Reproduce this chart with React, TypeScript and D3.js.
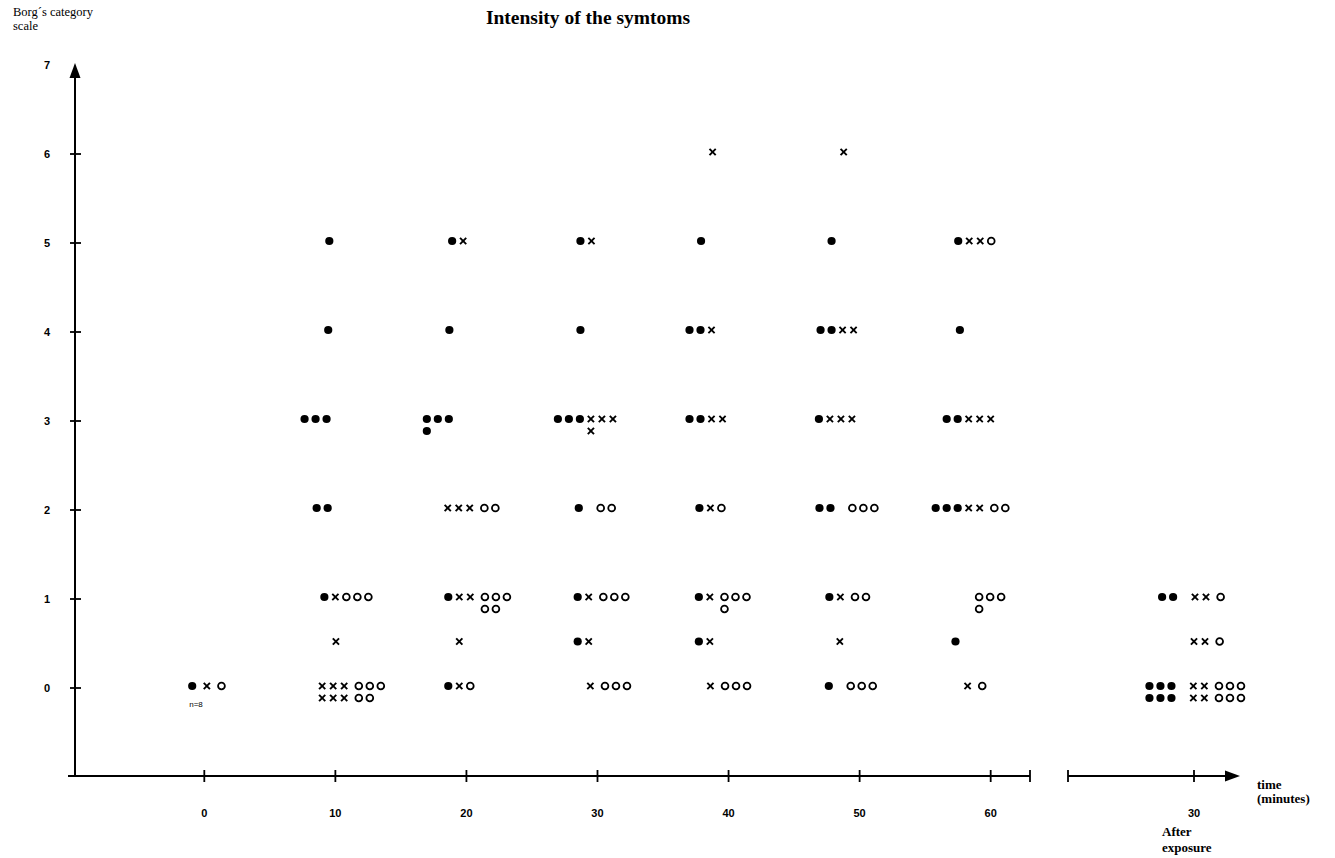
import * as d3 from 'd3'

// time points during exposure (minutes) and the score ticks
const minutes = [0, 10, 20, 30, 40, 50, 60]
const scoreTicks = [0, 1, 2, 3, 4, 5, 6]
const afterTicks = [30]

// one entry per symbol group: [score, symbols, shift from the tick in symbol widths]
// '●' / '×' / 'o' are the three symbol kinds, ' ' a small gap, '_' an empty slot, '/' a second line
const at0 = [[0, '● × o', -1.1]]
const at10 = [
  [5, '●', -0.55], [4, '●', -0.65], [3, '●●●', -2.8], [2, '●●', -1.7],
  [1, '●×ooo', -1.0], [0.5, '×', 0.05], [0, '××× ooo/××× oo', -1.2],
]
const at20 = [
  [5, '●×', -1.3], [4, '●', -1.55], [3, '●●●/●', -3.6], [2, '××× oo', -1.7],
  [1, '●×× ooo/___ oo', -1.65], [0.5, '×', -0.65], [0, '●×o', -1.65],
]
const at30 = [
  [5, '●×', -1.55], [4, '●', -1.55], [3, '●●●×××/___×', -3.6], [2, '●   oo', -1.7],
  [1, '●× ooo', -1.8], [0.5, '●×', -1.8], [0, '× ooo', -0.65],
]
const at40 = [
  [6, '×', -1.45], [5, '●', -2.5], [4, '●●×', -3.55], [3, '●●××', -3.55],
  [2, '●×o', -2.65], [1, '●× ooo/__ o', -2.7], [0.5, '●×', -2.7], [0, '× ooo', -1.65],
]
const at50 = [
  [6, '×', -1.45], [5, '●', -2.55], [4, '●●××', -3.55], [3, '●×××', -3.7],
  [2, '●●   ooo', -3.65], [1, '●× oo', -2.75], [0.5, '×', -1.8], [0, '●   ooo', -2.8],
]
const at60 = [
  [5, '●××o', -2.95], [4, '●', -2.8], [3, '●●×××', -4.0], [2, '●●●×× oo', -5.0],
  [1, 'ooo/o', -1.05], [0.5, '●', -3.2], [0, '× o', -2.1],
]
const after30 = [
  [1, '●●   ×× o', -2.9], [0.5, '×× o', 0], [0, '●●●   ×× ooo/●●●   ×× ooo', -4.05],
]

const duringGroups = [at0, at10, at20, at30, at40, at50, at60]

const W = 1335
const H = 858
const PITCH = 11
const LINE = 12
const SERIF = "'Liberation Serif', 'DejaVu Serif', serif"
const SANS = "'Liberation Sans', Arial, sans-serif"

const x = d3.scaleLinear().domain([-10.4, 63]).range([68, 1030])
const xAfter = d3.scaleLinear().domain([0, 30]).range([1068, 1194])
const y = d3.scaleLinear().domain([-1, 7]).range([777, 65])

function Symbol({ ch, cx, cy }: { ch: string; cx: number; cy: number }) {
  if (ch === '●') return <circle cx={cx} cy={cy} r={4.1} fill="#000" />
  if (ch === 'o') return <circle cx={cx} cy={cy} r={3.4} fill="none" stroke="#000" strokeWidth={1.8} />
  const s = 3.1
  return (
    <g stroke="#000" strokeWidth={1.9}>
      <line x1={cx - s} y1={cy - s} x2={cx + s} y2={cy + s} />
      <line x1={cx - s} y1={cy + s} x2={cx + s} y2={cy - s} />
    </g>
  )
}

function Group({ tx, score, pattern, shift }: { tx: number; score: number; pattern: string; shift: number }) {
  const out: JSX.Element[] = []
  pattern.split('/').forEach((line, li) => {
    let cx = tx + shift * PITCH
    const cy = y(score) - 2 + li * LINE
    for (const ch of line) {
      if (ch === ' ') { cx += PITCH * 0.33; continue }
      if (ch === '_') { cx += PITCH; continue }
      out.push(<Symbol key={`${li}-${cx}`} ch={ch} cx={cx} cy={cy} />)
      cx += PITCH
    }
  })
  return <g>{out}</g>
}

export default function App() {
  const axisY = y(-1) - 1
  const yAxisX = 75

  return (
    <svg width={W} height={H} style={{ position: 'absolute', left: 0, top: 0, background: '#fff' }}>
      {/* titles */}
      <text x={13} y={16} fontFamily={SERIF} fontSize={12.5}>Borg´s category</text>
      <text x={13} y={30} fontFamily={SERIF} fontSize={12.5}>scale</text>
      <text x={588} y={24} textAnchor="middle" fontFamily={SERIF} fontSize={19.5} fontWeight="bold">
        Intensity of the symtoms
      </text>

      {/* y axis */}
      <line x1={yAxisX} x2={yAxisX} y1={axisY} y2={76} stroke="#000" strokeWidth={2} />
      <path d={`M${yAxisX},63 L${yAxisX - 5.5},78 L${yAxisX + 5.5},78 Z`} fill="#000" />
      {scoreTicks.map(t => (
        <line key={t} x1={yAxisX - 5} x2={yAxisX + 6} y1={y(t)} y2={y(t)} stroke="#000" strokeWidth={1.8} />
      ))}
      {[...scoreTicks, 7].map(t => (
        <text key={t} x={47} y={y(t) + 4} textAnchor="middle" fontFamily={SANS}
          fontSize={11} fontWeight="bold">{t}</text>
      ))}

      {/* x axis, during exposure */}
      <line x1={68} x2={x(63)} y1={axisY} y2={axisY} stroke="#000" strokeWidth={2} />
      {minutes.map(m => (
        <line key={m} x1={x(m)} x2={x(m)} y1={axisY - 6} y2={axisY + 6} stroke="#000" strokeWidth={1.8} />
      ))}
      <line x1={x(63)} x2={x(63)} y1={axisY - 6} y2={axisY + 6} stroke="#000" strokeWidth={1.8} />
      {minutes.map(m => (
        <text key={m} x={x(m)} y={axisY + 41} textAnchor="middle" fontFamily={SANS}
          fontSize={11} fontWeight="bold">{m}</text>
      ))}

      {/* x axis, after exposure */}
      <line x1={xAfter(0)} x2={1228} y1={axisY} y2={axisY} stroke="#000" strokeWidth={2} />
      <path d={`M1240,${axisY} L1225,${axisY - 5.5} L1225,${axisY + 5.5} Z`} fill="#000" />
      <line x1={xAfter(0)} x2={xAfter(0)} y1={axisY - 6} y2={axisY + 6} stroke="#000" strokeWidth={1.8} />
      {afterTicks.map(m => (
        <g key={m}>
          <line x1={xAfter(m)} x2={xAfter(m)} y1={axisY - 6} y2={axisY + 6} stroke="#000" strokeWidth={1.8} />
          <text x={xAfter(m)} y={axisY + 41} textAnchor="middle" fontFamily={SANS}
            fontSize={11} fontWeight="bold">{m}</text>
        </g>
      ))}
      <text x={1162} y={836} fontFamily={SERIF} fontSize={13} fontWeight="bold">After</text>
      <text x={1162} y={852} fontFamily={SERIF} fontSize={13} fontWeight="bold">exposure</text>
      <text x={1257} y={789} fontFamily={SERIF} fontSize={13} fontWeight="bold">time</text>
      <text x={1257} y={803} fontFamily={SERIF} fontSize={13} fontWeight="bold">(minutes)</text>

      {/* symbol groups */}
      {duringGroups.map((groups, i) =>
        groups.map(([score, pattern, shift], j) => (
          <Group key={`${i}-${j}`} tx={x(minutes[i])} score={score as number}
            pattern={pattern as string} shift={shift as number} />
        ))
      )}
      {after30.map(([score, pattern, shift], j) => (
        <Group key={`a-${j}`} tx={xAfter(30)} score={score as number}
          pattern={pattern as string} shift={shift as number} />
      ))}
      <text x={196} y={707} textAnchor="middle" fontFamily={SANS} fontSize={8}>n=8</text>
    </svg>
  )
}
